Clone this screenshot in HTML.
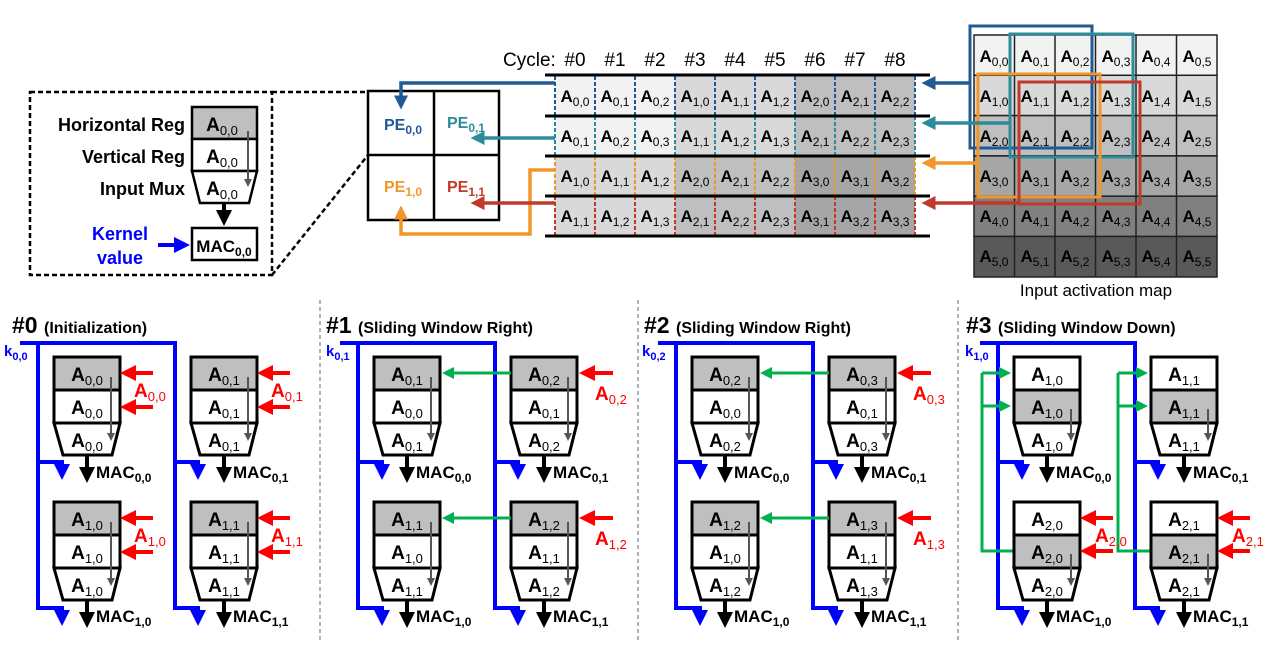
<!DOCTYPE html>
<html><head><meta charset="utf-8"><style>
html,body{margin:0;padding:0;background:#fff;}
svg{display:block;font-family:"Liberation Sans",Arial,sans-serif;}
.a{font-weight:bold;font-size:19px;}
.s{font-weight:normal;font-size:13px;}
.t{font-weight:bold;font-size:17px;}
.ts{font-weight:normal;font-size:12px;}
.mac{font-weight:bold;font-size:17px;}
.macs{font-weight:bold;font-size:12px;}
</style></head><body>
<svg width="1275" height="648" viewBox="0 0 1275 648" xmlns="http://www.w3.org/2000/svg">
<defs>
<marker id="mb" markerWidth="4" markerHeight="4" refX="3" refY="2" orient="auto" markerUnits="strokeWidth"><path d="M0,0L4,2L0,4z" fill="#0000ff"/></marker>
<marker id="mk" markerWidth="4" markerHeight="4" refX="3" refY="2" orient="auto" markerUnits="strokeWidth"><path d="M0,0L4,2L0,4z" fill="#000"/></marker>
<marker id="mr" markerWidth="4" markerHeight="4" refX="3" refY="2" orient="auto" markerUnits="strokeWidth"><path d="M0,0L4,2L0,4z" fill="#ff0000"/></marker>
<marker id="mg" markerWidth="4" markerHeight="4" refX="3" refY="2" orient="auto" markerUnits="strokeWidth"><path d="M0,0L4,2L0,4z" fill="#00b050"/></marker>
<marker id="mgr" markerWidth="4" markerHeight="4" refX="3" refY="2" orient="auto" markerUnits="strokeWidth"><path d="M0,0L4,2L0,4z" fill="#555"/></marker>
<marker id="m1" markerWidth="4" markerHeight="4" refX="3" refY="2" orient="auto" markerUnits="strokeWidth"><path d="M0,0L4,2L0,4z" fill="#1f5a96"/></marker>
<marker id="m2" markerWidth="4" markerHeight="4" refX="3" refY="2" orient="auto" markerUnits="strokeWidth"><path d="M0,0L4,2L0,4z" fill="#2e8b9a"/></marker>
<marker id="m3" markerWidth="4" markerHeight="4" refX="3" refY="2" orient="auto" markerUnits="strokeWidth"><path d="M0,0L4,2L0,4z" fill="#f0962a"/></marker>
<marker id="m4" markerWidth="4" markerHeight="4" refX="3" refY="2" orient="auto" markerUnits="strokeWidth"><path d="M0,0L4,2L0,4z" fill="#c0392b"/></marker>
<g id="peA">
<rect x="0" y="0" width="66" height="33" fill="#bfbfbf" stroke="#000" stroke-width="3"/>
<rect x="0" y="33" width="66" height="33" fill="#fff" stroke="#000" stroke-width="3"/>
<path d="M0,66H66L58,98H9Z" fill="#fff" stroke="#000" stroke-width="3"/>
<line x1="57" y1="20" x2="57" y2="82" stroke="#555" stroke-width="2" marker-end="url(#mgr)"/>
<line x1="33" y1="98" x2="33" y2="122" stroke="#000" stroke-width="4" marker-end="url(#mk)"/>
</g>
<g id="peB">
<rect x="0" y="0" width="66" height="33" fill="#fff" stroke="#000" stroke-width="3"/>
<rect x="0" y="33" width="66" height="33" fill="#bfbfbf" stroke="#000" stroke-width="3"/>
<path d="M0,66H66L58,98H9Z" fill="#fff" stroke="#000" stroke-width="3"/>
<line x1="57" y1="52" x2="57" y2="82" stroke="#555" stroke-width="2" marker-end="url(#mgr)"/>
<line x1="33" y1="98" x2="33" y2="122" stroke="#000" stroke-width="4" marker-end="url(#mk)"/>
</g>
<g id="blue">
<path d="M20,343H175V608H198V622" fill="none" stroke="#0000ff" stroke-width="4" marker-end="url(#mb)"/>
<path d="M38,343V608H62V622" fill="none" stroke="#0000ff" stroke-width="4" marker-end="url(#mb)"/>
<path d="M38,462H62V476" fill="none" stroke="#0000ff" stroke-width="4" marker-end="url(#mb)"/>
<path d="M175,462H198V476" fill="none" stroke="#0000ff" stroke-width="4" marker-end="url(#mb)"/>
</g>
<g id="macs">
<text x="96" y="478" class="mac">MAC<tspan class="macs" dy="4">0,0</tspan></text>
<text x="233" y="478" class="mac">MAC<tspan class="macs" dy="4">0,1</tspan></text>
<text x="96" y="622" class="mac">MAC<tspan class="macs" dy="4">1,0</tspan></text>
<text x="233" y="622" class="mac">MAC<tspan class="macs" dy="4">1,1</tspan></text>
</g>
</defs>

<line x1="320" y1="300" x2="320" y2="640" stroke="#999" stroke-width="1.5" stroke-dasharray="4,3"/>
<line x1="638" y1="300" x2="638" y2="640" stroke="#999" stroke-width="1.5" stroke-dasharray="4,3"/>
<line x1="958" y1="300" x2="958" y2="640" stroke="#999" stroke-width="1.5" stroke-dasharray="4,3"/>

<!-- Panel 0 -->
<g>
<text x="12" y="333" font-weight="bold" font-size="23">#0 <tspan font-size="16">(Initialization)</tspan></text>
<use href="#blue"/>
<text x="4" y="356" fill="#0000ff" font-weight="bold" font-size="15">k<tspan font-size="11" dy="4">0,0</tspan></text>
<use href="#peA" x="54" y="357"/><use href="#peA" x="191" y="357"/>
<use href="#peA" x="54" y="502"/><use href="#peA" x="191" y="502"/>
<use href="#macs"/>
<g text-anchor="middle">
<text x="87" y="381" class="a">A<tspan class="s" dy="4">0,0</tspan></text>
<text x="87" y="414" class="a">A<tspan class="s" dy="4">0,0</tspan></text>
<text x="87" y="447" class="a">A<tspan class="s" dy="4">0,0</tspan></text>
<text x="224" y="381" class="a">A<tspan class="s" dy="4">0,1</tspan></text>
<text x="224" y="414" class="a">A<tspan class="s" dy="4">0,1</tspan></text>
<text x="224" y="447" class="a">A<tspan class="s" dy="4">0,1</tspan></text>
<text x="87" y="526" class="a">A<tspan class="s" dy="4">1,0</tspan></text>
<text x="87" y="559" class="a">A<tspan class="s" dy="4">1,0</tspan></text>
<text x="87" y="592" class="a">A<tspan class="s" dy="4">1,0</tspan></text>
<text x="224" y="526" class="a">A<tspan class="s" dy="4">1,1</tspan></text>
<text x="224" y="559" class="a">A<tspan class="s" dy="4">1,1</tspan></text>
<text x="224" y="592" class="a">A<tspan class="s" dy="4">1,1</tspan></text>
</g>
<g stroke="#ff0000" stroke-width="4" marker-end="url(#mr)">
<line x1="153" y1="373" x2="124" y2="373"/><line x1="153" y1="407" x2="124" y2="407"/>
<line x1="290" y1="373" x2="261" y2="373"/><line x1="290" y1="407" x2="261" y2="407"/>
<line x1="153" y1="518" x2="124" y2="518"/><line x1="153" y1="552" x2="124" y2="552"/>
<line x1="290" y1="518" x2="261" y2="518"/><line x1="290" y1="552" x2="261" y2="552"/>
</g>
<g fill="#ff0000">
<text x="134" y="397" class="a">A<tspan class="s" dy="4">0,0</tspan></text>
<text x="271" y="397" class="a">A<tspan class="s" dy="4">0,1</tspan></text>
<text x="134" y="542" class="a">A<tspan class="s" dy="4">1,0</tspan></text>
<text x="271" y="542" class="a">A<tspan class="s" dy="4">1,1</tspan></text>
</g>
</g>

<!-- Panel 1 -->
<g transform="translate(320,0)">
<text x="6" y="333" font-weight="bold" font-size="23">#1 <tspan font-size="16">(Sliding Window Right)</tspan></text>
<use href="#blue"/>
<text x="6" y="356" fill="#0000ff" font-weight="bold" font-size="15">k<tspan font-size="11" dy="4">0,1</tspan></text>
<use href="#peA" x="54" y="357"/><use href="#peA" x="191" y="357"/>
<use href="#peA" x="54" y="502"/><use href="#peA" x="191" y="502"/>
<use href="#macs"/>
<g text-anchor="middle">
<text x="87" y="381" class="a">A<tspan class="s" dy="4">0,1</tspan></text>
<text x="87" y="414" class="a">A<tspan class="s" dy="4">0,0</tspan></text>
<text x="87" y="447" class="a">A<tspan class="s" dy="4">0,1</tspan></text>
<text x="224" y="381" class="a">A<tspan class="s" dy="4">0,2</tspan></text>
<text x="224" y="414" class="a">A<tspan class="s" dy="4">0,1</tspan></text>
<text x="224" y="447" class="a">A<tspan class="s" dy="4">0,2</tspan></text>
<text x="87" y="526" class="a">A<tspan class="s" dy="4">1,1</tspan></text>
<text x="87" y="559" class="a">A<tspan class="s" dy="4">1,0</tspan></text>
<text x="87" y="592" class="a">A<tspan class="s" dy="4">1,1</tspan></text>
<text x="224" y="526" class="a">A<tspan class="s" dy="4">1,2</tspan></text>
<text x="224" y="559" class="a">A<tspan class="s" dy="4">1,1</tspan></text>
<text x="224" y="592" class="a">A<tspan class="s" dy="4">1,2</tspan></text>
</g>
<g stroke="#00b050" stroke-width="3" marker-end="url(#mg)">
<line x1="191" y1="373" x2="125" y2="373"/><line x1="191" y1="518" x2="125" y2="518"/>
</g>
<g stroke="#ff0000" stroke-width="4" marker-end="url(#mr)">
<line x1="293" y1="373" x2="263" y2="373"/><line x1="293" y1="518" x2="263" y2="518"/>
</g>
<g fill="#ff0000">
<text x="275" y="400" class="a">A<tspan class="s" dy="4">0,2</tspan></text>
<text x="275" y="545" class="a">A<tspan class="s" dy="4">1,2</tspan></text>
</g>
</g>

<!-- Panel 2 -->
<g transform="translate(638,0)">
<text x="6" y="333" font-weight="bold" font-size="23">#2 <tspan font-size="16">(Sliding Window Right)</tspan></text>
<use href="#blue"/>
<text x="4" y="356" fill="#0000ff" font-weight="bold" font-size="15">k<tspan font-size="11" dy="4">0,2</tspan></text>
<use href="#peA" x="54" y="357"/><use href="#peA" x="191" y="357"/>
<use href="#peA" x="54" y="502"/><use href="#peA" x="191" y="502"/>
<use href="#macs"/>
<g text-anchor="middle">
<text x="87" y="381" class="a">A<tspan class="s" dy="4">0,2</tspan></text>
<text x="87" y="414" class="a">A<tspan class="s" dy="4">0,0</tspan></text>
<text x="87" y="447" class="a">A<tspan class="s" dy="4">0,2</tspan></text>
<text x="224" y="381" class="a">A<tspan class="s" dy="4">0,3</tspan></text>
<text x="224" y="414" class="a">A<tspan class="s" dy="4">0,1</tspan></text>
<text x="224" y="447" class="a">A<tspan class="s" dy="4">0,3</tspan></text>
<text x="87" y="526" class="a">A<tspan class="s" dy="4">1,2</tspan></text>
<text x="87" y="559" class="a">A<tspan class="s" dy="4">1,0</tspan></text>
<text x="87" y="592" class="a">A<tspan class="s" dy="4">1,2</tspan></text>
<text x="224" y="526" class="a">A<tspan class="s" dy="4">1,3</tspan></text>
<text x="224" y="559" class="a">A<tspan class="s" dy="4">1,1</tspan></text>
<text x="224" y="592" class="a">A<tspan class="s" dy="4">1,3</tspan></text>
</g>
<g stroke="#00b050" stroke-width="3" marker-end="url(#mg)">
<line x1="191" y1="373" x2="125" y2="373"/><line x1="191" y1="518" x2="125" y2="518"/>
</g>
<g stroke="#ff0000" stroke-width="4" marker-end="url(#mr)">
<line x1="293" y1="373" x2="263" y2="373"/><line x1="293" y1="518" x2="263" y2="518"/>
</g>
<g fill="#ff0000">
<text x="275" y="400" class="a">A<tspan class="s" dy="4">0,3</tspan></text>
<text x="275" y="545" class="a">A<tspan class="s" dy="4">1,3</tspan></text>
</g>
</g>

<!-- Panel 3 -->
<g transform="translate(960,0)">
<text x="6" y="333" font-weight="bold" font-size="23">#3 <tspan font-size="16">(Sliding Window Down)</tspan></text>
<use href="#blue"/>
<text x="5" y="356" fill="#0000ff" font-weight="bold" font-size="15">k<tspan font-size="11" dy="4">1,0</tspan></text>
<g fill="none" stroke="#00b050" stroke-width="3">
<path d="M54,551H22V373"/><path d="M191,551H158V373"/>
</g>
<g stroke="#00b050" stroke-width="3" marker-end="url(#mg)">
<line x1="22" y1="373" x2="48" y2="373"/><line x1="22" y1="406" x2="48" y2="406"/>
<line x1="158" y1="373" x2="185" y2="373"/><line x1="158" y1="406" x2="185" y2="406"/>
</g>
<use href="#peB" x="54" y="357"/><use href="#peB" x="191" y="357"/>
<use href="#peB" x="54" y="502"/><use href="#peB" x="191" y="502"/>
<use href="#macs"/>
<g text-anchor="middle">
<text x="87" y="381" class="a">A<tspan class="s" dy="4">1,0</tspan></text>
<text x="87" y="414" class="a">A<tspan class="s" dy="4">1,0</tspan></text>
<text x="87" y="447" class="a">A<tspan class="s" dy="4">1,0</tspan></text>
<text x="224" y="381" class="a">A<tspan class="s" dy="4">1,1</tspan></text>
<text x="224" y="414" class="a">A<tspan class="s" dy="4">1,1</tspan></text>
<text x="224" y="447" class="a">A<tspan class="s" dy="4">1,1</tspan></text>
<text x="87" y="526" class="a">A<tspan class="s" dy="4">2,0</tspan></text>
<text x="87" y="559" class="a">A<tspan class="s" dy="4">2,0</tspan></text>
<text x="87" y="592" class="a">A<tspan class="s" dy="4">2,0</tspan></text>
<text x="224" y="526" class="a">A<tspan class="s" dy="4">2,1</tspan></text>
<text x="224" y="559" class="a">A<tspan class="s" dy="4">2,1</tspan></text>
<text x="224" y="592" class="a">A<tspan class="s" dy="4">2,1</tspan></text>
</g>
<g stroke="#ff0000" stroke-width="4" marker-end="url(#mr)">
<line x1="153" y1="518" x2="124" y2="518"/><line x1="153" y1="551" x2="124" y2="551"/>
<line x1="290" y1="518" x2="261" y2="518"/><line x1="290" y1="551" x2="261" y2="551"/>
</g>
<g fill="#ff0000">
<text x="135" y="542" class="a">A<tspan class="s" dy="4">2,0</tspan></text>
<text x="272" y="542" class="a">A<tspan class="s" dy="4">2,1</tspan></text>
</g>
</g>

<!-- Legend -->
<rect x="30" y="92" width="242" height="183" fill="none" stroke="#000" stroke-width="2.5" stroke-dasharray="5,3"/>
<line x1="272" y1="92" x2="368" y2="92" stroke="#000" stroke-width="2.5" stroke-dasharray="5,3"/>
<line x1="272" y1="275" x2="368" y2="155" stroke="#000" stroke-width="2.5" stroke-dasharray="5,3"/>
<g font-weight="bold" font-size="18" text-anchor="end">
<text x="185" y="131">Horizontal Reg</text>
<text x="185" y="163">Vertical Reg</text>
<text x="185" y="195">Input Mux</text>
</g>
<rect x="192" y="107" width="65" height="32" fill="#bfbfbf" stroke="#000" stroke-width="2.5"/>
<rect x="192" y="139" width="65" height="32" fill="#fff" stroke="#000" stroke-width="2.5"/>
<path d="M192,171H257L249,203H200Z" fill="#fff" stroke="#000" stroke-width="2.5"/>
<line x1="248" y1="131" x2="248" y2="185" stroke="#555" stroke-width="2" marker-end="url(#mgr)"/>
<line x1="224" y1="203" x2="224" y2="222" stroke="#000" stroke-width="4" marker-end="url(#mk)"/>
<rect x="192" y="228" width="65" height="32" fill="#fff" stroke="#000" stroke-width="2.5"/>
<g text-anchor="middle">
<text x="222" y="131" class="a">A<tspan class="s" dy="4">0,0</tspan></text>
<text x="222" y="163" class="a">A<tspan class="s" dy="4">0,0</tspan></text>
<text x="222" y="195" class="a">A<tspan class="s" dy="4">0,0</tspan></text>
<text x="224" y="252" class="mac">MAC<tspan class="macs" dy="4">0,0</tspan></text>
<text x="120" y="240" fill="#0000ff" font-weight="bold" font-size="18">Kernel</text>
<text x="120" y="264" fill="#0000ff" font-weight="bold" font-size="18">value</text>
</g>
<line x1="158" y1="245" x2="186" y2="245" stroke="#0000ff" stroke-width="4" marker-end="url(#mb)"/>

<!-- PE grid -->
<rect x="368" y="91" width="131" height="129" fill="#fff" stroke="#000" stroke-width="2.5"/>
<line x1="434" y1="91" x2="434" y2="220" stroke="#000" stroke-width="2.5"/>
<line x1="368" y1="155" x2="499" y2="155" stroke="#000" stroke-width="2.5"/>
<g text-anchor="middle" font-weight="bold" font-size="16">
<text x="403" y="130" fill="#1f5a96">PE<tspan font-size="12" dy="4">0,0</tspan></text>
<text x="466" y="128" fill="#2e8b9a">PE<tspan font-size="12" dy="4">0,1</tspan></text>
<text x="403" y="192" fill="#f0962a">PE<tspan font-size="12" dy="4">1,0</tspan></text>
<text x="466" y="192" fill="#c0392b">PE<tspan font-size="12" dy="4">1,1</tspan></text>
</g>
<path d="M555,83H401V106" fill="none" stroke="#1f5a96" stroke-width="3.5" marker-end="url(#m1)"/>
<line x1="555" y1="138" x2="474" y2="138" stroke="#2e8b9a" stroke-width="3.5" marker-end="url(#m2)"/>
<path d="M555,170H530V234H401V209" fill="none" stroke="#f0962a" stroke-width="3.5" marker-end="url(#m3)"/>
<line x1="555" y1="203" x2="474" y2="203" stroke="#c0392b" stroke-width="3.5" marker-end="url(#m4)"/>

<!-- Table -->
<text x="503" y="66" font-size="19">Cycle:</text>
<g font-size="19" text-anchor="middle">
<text x="575" y="66">#0</text><text x="615" y="66">#1</text><text x="655" y="66">#2</text>
<text x="695" y="66">#3</text><text x="735" y="66">#4</text><text x="775" y="66">#5</text>
<text x="815" y="66">#6</text><text x="855" y="66">#7</text><text x="895" y="66">#8</text>
</g>
<rect x="555" y="75" width="120" height="80" fill="#f2f2f2"/>
<rect x="675" y="75" width="120" height="80" fill="#d9d9d9"/>
<rect x="795" y="75" width="120" height="80" fill="#bfbfbf"/>
<rect x="555" y="155" width="120" height="81" fill="#d9d9d9"/>
<rect x="675" y="155" width="120" height="81" fill="#bfbfbf"/>
<rect x="795" y="155" width="120" height="81" fill="#a6a6a6"/>
<g stroke-width="2" stroke-dasharray="4,2">
<path d="M555,76V116M595,76V116M635,76V116M675,76V116M715,76V116M755,76V116M795,76V116M835,76V116M875,76V116M915,76V116" stroke="#1f5a96"/>
<path d="M555,116V156M595,116V156M635,116V156M675,116V156M715,116V156M755,116V156M795,116V156M835,116V156M875,116V156M915,116V156" stroke="#2e8b9a"/>
<path d="M555,156V196M595,156V196M635,156V196M675,156V196M715,156V196M755,156V196M795,156V196M835,156V196M875,156V196M915,156V196" stroke="#f0962a"/>
<path d="M555,196V236M595,196V236M635,196V236M675,196V236M715,196V236M755,196V236M795,196V236M835,196V236M875,196V236M915,196V236" stroke="#c0392b"/>
</g>
<g stroke="#000" stroke-width="3">
<line x1="545" y1="75" x2="930" y2="75"/><line x1="545" y1="116" x2="930" y2="116"/>
<line x1="545" y1="156" x2="930" y2="156"/><line x1="545" y1="196" x2="930" y2="196"/>
<line x1="545" y1="236" x2="930" y2="236"/>
</g>
<g text-anchor="middle">
<text x="575" y="102" class="t">A<tspan class="ts" dy="4">0,0</tspan></text>
<text x="615" y="102" class="t">A<tspan class="ts" dy="4">0,1</tspan></text>
<text x="655" y="102" class="t">A<tspan class="ts" dy="4">0,2</tspan></text>
<text x="695" y="102" class="t">A<tspan class="ts" dy="4">1,0</tspan></text>
<text x="735" y="102" class="t">A<tspan class="ts" dy="4">1,1</tspan></text>
<text x="775" y="102" class="t">A<tspan class="ts" dy="4">1,2</tspan></text>
<text x="815" y="102" class="t">A<tspan class="ts" dy="4">2,0</tspan></text>
<text x="855" y="102" class="t">A<tspan class="ts" dy="4">2,1</tspan></text>
<text x="895" y="102" class="t">A<tspan class="ts" dy="4">2,2</tspan></text>
<text x="575" y="142" class="t">A<tspan class="ts" dy="4">0,1</tspan></text>
<text x="615" y="142" class="t">A<tspan class="ts" dy="4">0,2</tspan></text>
<text x="655" y="142" class="t">A<tspan class="ts" dy="4">0,3</tspan></text>
<text x="695" y="142" class="t">A<tspan class="ts" dy="4">1,1</tspan></text>
<text x="735" y="142" class="t">A<tspan class="ts" dy="4">1,2</tspan></text>
<text x="775" y="142" class="t">A<tspan class="ts" dy="4">1,3</tspan></text>
<text x="815" y="142" class="t">A<tspan class="ts" dy="4">2,1</tspan></text>
<text x="855" y="142" class="t">A<tspan class="ts" dy="4">2,2</tspan></text>
<text x="895" y="142" class="t">A<tspan class="ts" dy="4">2,3</tspan></text>
<text x="575" y="182" class="t">A<tspan class="ts" dy="4">1,0</tspan></text>
<text x="615" y="182" class="t">A<tspan class="ts" dy="4">1,1</tspan></text>
<text x="655" y="182" class="t">A<tspan class="ts" dy="4">1,2</tspan></text>
<text x="695" y="182" class="t">A<tspan class="ts" dy="4">2,0</tspan></text>
<text x="735" y="182" class="t">A<tspan class="ts" dy="4">2,1</tspan></text>
<text x="775" y="182" class="t">A<tspan class="ts" dy="4">2,2</tspan></text>
<text x="815" y="182" class="t">A<tspan class="ts" dy="4">3,0</tspan></text>
<text x="855" y="182" class="t">A<tspan class="ts" dy="4">3,1</tspan></text>
<text x="895" y="182" class="t">A<tspan class="ts" dy="4">3,2</tspan></text>
<text x="575" y="222" class="t">A<tspan class="ts" dy="4">1,1</tspan></text>
<text x="615" y="222" class="t">A<tspan class="ts" dy="4">1,2</tspan></text>
<text x="655" y="222" class="t">A<tspan class="ts" dy="4">1,3</tspan></text>
<text x="695" y="222" class="t">A<tspan class="ts" dy="4">2,1</tspan></text>
<text x="735" y="222" class="t">A<tspan class="ts" dy="4">2,2</tspan></text>
<text x="775" y="222" class="t">A<tspan class="ts" dy="4">2,3</tspan></text>
<text x="815" y="222" class="t">A<tspan class="ts" dy="4">3,1</tspan></text>
<text x="855" y="222" class="t">A<tspan class="ts" dy="4">3,2</tspan></text>
<text x="895" y="222" class="t">A<tspan class="ts" dy="4">3,3</tspan></text>
</g>

<!-- Activation map -->
<g stroke="#222" stroke-width="1.5">
<rect x="974" y="35" width="243" height="40.3" fill="#f2f2f2"/>
<rect x="974" y="75.3" width="243" height="40.3" fill="#d9d9d9"/>
<rect x="974" y="115.6" width="243" height="40.3" fill="#bfbfbf"/>
<rect x="974" y="155.9" width="243" height="40.3" fill="#a6a6a6"/>
<rect x="974" y="196.2" width="243" height="40.3" fill="#808080"/>
<rect x="974" y="236.5" width="243" height="40.5" fill="#595959"/>
<path d="M1014.5,35V277M1055,35V277M1095.5,35V277M1136,35V277M1176.5,35V277" fill="none"/>
</g>
<g text-anchor="middle">
<text x="994" y="62" class="t">A<tspan class="ts" dy="4">0,0</tspan></text>
<text x="1035" y="62" class="t">A<tspan class="ts" dy="4">0,1</tspan></text>
<text x="1075" y="62" class="t">A<tspan class="ts" dy="4">0,2</tspan></text>
<text x="1116" y="62" class="t">A<tspan class="ts" dy="4">0,3</tspan></text>
<text x="1156" y="62" class="t">A<tspan class="ts" dy="4">0,4</tspan></text>
<text x="1197" y="62" class="t">A<tspan class="ts" dy="4">0,5</tspan></text>
<text x="994" y="102" class="t">A<tspan class="ts" dy="4">1,0</tspan></text>
<text x="1035" y="102" class="t">A<tspan class="ts" dy="4">1,1</tspan></text>
<text x="1075" y="102" class="t">A<tspan class="ts" dy="4">1,2</tspan></text>
<text x="1116" y="102" class="t">A<tspan class="ts" dy="4">1,3</tspan></text>
<text x="1156" y="102" class="t">A<tspan class="ts" dy="4">1,4</tspan></text>
<text x="1197" y="102" class="t">A<tspan class="ts" dy="4">1,5</tspan></text>
<text x="994" y="142" class="t">A<tspan class="ts" dy="4">2,0</tspan></text>
<text x="1035" y="142" class="t">A<tspan class="ts" dy="4">2,1</tspan></text>
<text x="1075" y="142" class="t">A<tspan class="ts" dy="4">2,2</tspan></text>
<text x="1116" y="142" class="t">A<tspan class="ts" dy="4">2,3</tspan></text>
<text x="1156" y="142" class="t">A<tspan class="ts" dy="4">2,4</tspan></text>
<text x="1197" y="142" class="t">A<tspan class="ts" dy="4">2,5</tspan></text>
<text x="994" y="182" class="t">A<tspan class="ts" dy="4">3,0</tspan></text>
<text x="1035" y="182" class="t">A<tspan class="ts" dy="4">3,1</tspan></text>
<text x="1075" y="182" class="t">A<tspan class="ts" dy="4">3,2</tspan></text>
<text x="1116" y="182" class="t">A<tspan class="ts" dy="4">3,3</tspan></text>
<text x="1156" y="182" class="t">A<tspan class="ts" dy="4">3,4</tspan></text>
<text x="1197" y="182" class="t">A<tspan class="ts" dy="4">3,5</tspan></text>
<text x="994" y="222" class="t">A<tspan class="ts" dy="4">4,0</tspan></text>
<text x="1035" y="222" class="t">A<tspan class="ts" dy="4">4,1</tspan></text>
<text x="1075" y="222" class="t">A<tspan class="ts" dy="4">4,2</tspan></text>
<text x="1116" y="222" class="t">A<tspan class="ts" dy="4">4,3</tspan></text>
<text x="1156" y="222" class="t">A<tspan class="ts" dy="4">4,4</tspan></text>
<text x="1197" y="222" class="t">A<tspan class="ts" dy="4">4,5</tspan></text>
<text x="994" y="262" class="t">A<tspan class="ts" dy="4">5,0</tspan></text>
<text x="1035" y="262" class="t">A<tspan class="ts" dy="4">5,1</tspan></text>
<text x="1075" y="262" class="t">A<tspan class="ts" dy="4">5,2</tspan></text>
<text x="1116" y="262" class="t">A<tspan class="ts" dy="4">5,3</tspan></text>
<text x="1156" y="262" class="t">A<tspan class="ts" dy="4">5,4</tspan></text>
<text x="1197" y="262" class="t">A<tspan class="ts" dy="4">5,5</tspan></text>
<text x="1096" y="296" font-size="17">Input activation map</text>
</g>
<g fill="none" stroke-width="3">
<rect x="970" y="26" width="122" height="122" stroke="#1f5a96"/>
<rect x="1010" y="34" width="123" height="123" stroke="#2e8b9a"/>
<rect x="978" y="74" width="122" height="123" stroke="#f0962a"/>
<rect x="1019" y="82" width="121" height="122" stroke="#c0392b"/>
</g>
<line x1="970" y1="83" x2="925" y2="83" stroke="#1f5a96" stroke-width="3.5" marker-end="url(#m1)"/>
<line x1="1010" y1="123" x2="925" y2="123" stroke="#2e8b9a" stroke-width="3.5" marker-end="url(#m2)"/>
<line x1="978" y1="163" x2="925" y2="163" stroke="#f0962a" stroke-width="3.5" marker-end="url(#m3)"/>
<line x1="1019" y1="203" x2="925" y2="203" stroke="#c0392b" stroke-width="3.5" marker-end="url(#m4)"/>
</svg>
</body></html>
